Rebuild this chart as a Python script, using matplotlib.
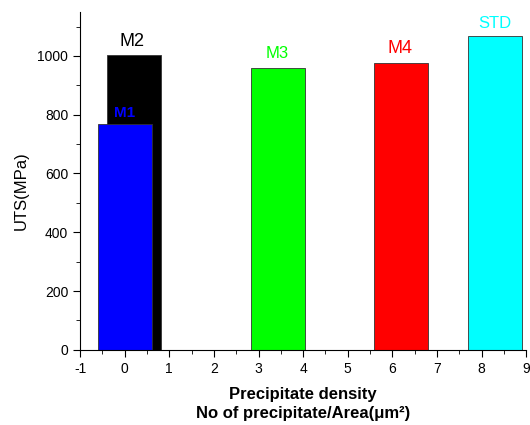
import matplotlib
matplotlib.use("Agg")
import matplotlib.pyplot as plt
from matplotlib.ticker import MultipleLocator

plt.rcParams['font.family'] = ['Liberation Sans', 'DejaVu Sans']
plt.rcParams['axes.unicode_minus'] = False

names = ["M2", "M1", "M3", "M4", "STD"]
positions = [0.22, 0.01, 3.43, 6.2, 8.3]
uts = [1003, 767, 958, 977, 1068]
colors = ["#000000", "#0000FF", "#00FF00", "#FF0000", "#00FFFF"]
label_x = [0.16, 0.0, 3.42, 6.16, 8.3]
label_y = [1048, 807, 1010, 1024, 1112]
label_bold = [False, True, False, False, False]
label_size = [13, 11, 12, 13, 12]

fig = plt.figure(figsize=(5.3, 4.25), dpi=100)
ax = fig.add_axes([0.151, 0.177, 0.842, 0.795])

for n, p, v, c in zip(names, positions, uts, colors):
    ax.bar(p, v, width=1.21, color=c, edgecolor="#333333", linewidth=0.6)

for n, x, y, c, b, s in zip(names, label_x, label_y, colors, label_bold, label_size):
    ax.text(x, y, n, color=c, ha="center", va="center", fontsize=s,
            fontweight="bold" if b else "normal")

ax.set_xlim(-1, 9)
ax.set_ylim(0, 1150)
ax.xaxis.set_major_locator(MultipleLocator(1))
ax.xaxis.set_minor_locator(MultipleLocator(0.5))
ax.yaxis.set_major_locator(MultipleLocator(200))
ax.yaxis.set_minor_locator(MultipleLocator(100))
ax.spines['top'].set_visible(False)
ax.spines['right'].set_visible(False)
ax.tick_params(axis='both', which='major', direction='out', length=5, labelsize=10)
ax.tick_params(axis='both', which='minor', direction='out', length=3)

ax.set_ylabel("UTS(MPa)", fontsize=12)
ax.yaxis.set_label_coords(-0.115, 0.47)
ax.set_xlabel("Precipitate density\nNo of precipitate/Area(μm²)", fontsize=12,
              fontweight="bold", linespacing=1.35, labelpad=8)

fig.savefig("out.png", dpi=100)
